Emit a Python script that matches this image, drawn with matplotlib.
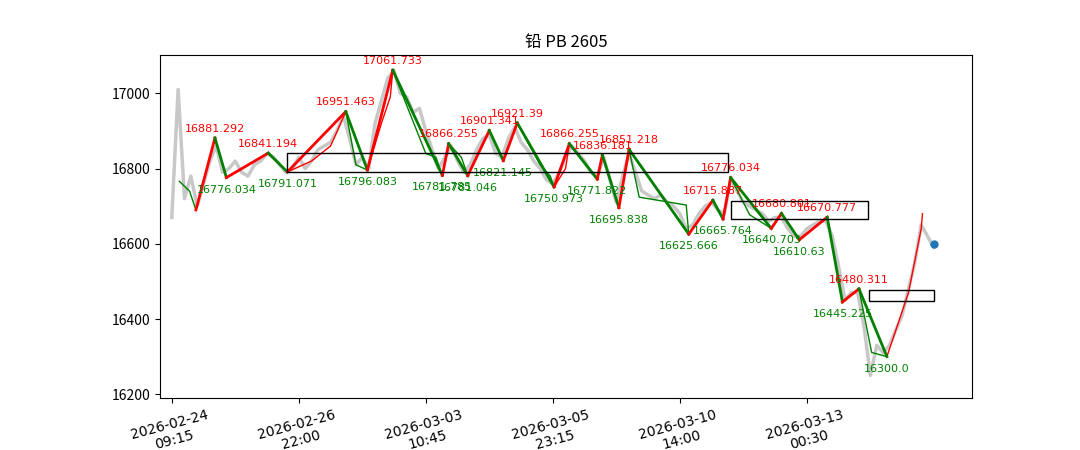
import matplotlib
matplotlib.use("Agg")
import matplotlib.pyplot as plt
from matplotlib.patches import Rectangle

plt.rcParams['font.family'] = ['Noto Sans CJK SC', 'DejaVu Sans']

grey_step = 5
grey = [16670,17010,16720,16780,16700,16760,16820,16860,16790,16800,16820,16790,16780,16810,16820,16840,16830,16810,16790,16800,
        16830,16800,16820,16850,16860,16870,16900,16940,16880,16810,16830,16800,16920,16980,17040,17060,17000,16990,16950,16960,
        16900,16850,16800,16830,16860,16820,16790,16810,16850,16880,16890,16840,16830,16880,16910,16870,16850,16820,16800,16770,
        16760,16790,16830,16860,16840,16820,16790,16780,16830,16770,16710,16780,16840,16790,16740,16730,16720,16730,16710,16700,
        16680,16640,16650,16680,16700,16710,16690,16680,16770,16740,16710,16700,16690,16680,16660,16670,16670,16640,16620,16620,
        16640,16650,16660,16660,16620,16540,16450,16470,16470,16380,16250,16330,16310,16330,16370,16410,16480,16550,16650,16620,16590]

piv_x = [19,34,43,76,91,137,154,174,213,218,233,250,261,272,301,313,335,339,352,360,407,426,434,440,472,480,494,516,528,541,563]
piv_y = [16690,16881.292,16776.034,16841.194,16791.071,16951.463,16796.083,17061.733,16781.785,16866.255,16781.046,16901.341,
         16821.145,16921.39,16750.973,16866.255,16771.822,16836.181,16695.838,16851.218,16625.666,16715.887,16665.764,16776.034,
         16640.703,16680.801,16610.63,16670.777,16445.225,16480.311,16300.0]
labelled = [i for i in range(1, len(piv_x))]

thin_green = [
    ([6,14,19],[16766,16740,16690]),
    ([137,145,154],[16951,16810,16796]),
    ([174,200,208,213],[17061,16840,16830,16781]),
    ([218,228,233],[16866,16830,16781]),
    ([272,290,298,301],[16921,16810,16780,16751]),
    ([360,368,405,407],[16851,16724,16703,16626]),
    ([440,455,472],[16776,16677,16641]),
    ([541,551,563],[16480,16311,16300]),
]
thin_red = [
    ([91,110,125,137],[16791,16820,16860,16951]),
    ([154,165,172,174],[16796,16920,16990,17061]),
    ([301,310,313],[16751,16800,16866]),
    ([563,580,590,591],[16300,16470,16640,16680]),
]
boxes = [(91,438,16792,16842),(440,548,16665,16715),(549,600,16447,16478)]
last_x, last_y = 600, 16600

tick_pos = [0,100,200,300,400,500]
tick_lab = ["2026-02-24\n09:15","2026-02-26\n22:00","2026-03-03\n10:45","2026-03-05\n23:15","2026-03-10\n14:00","2026-03-13\n00:30"]

fig = plt.figure(figsize=(10.8,4.5), dpi=100)
ax = fig.add_axes([0.148,0.1156,0.752,0.7622])
ax.plot([i*grey_step for i in range(len(grey))], grey, color='#c8c8c8', lw=2.5, zorder=1)
for xs, ys in thin_green:
    ax.plot(xs, ys, color='green', lw=1, zorder=2)
for xs, ys in thin_red:
    ax.plot(xs, ys, color='red', lw=1, zorder=2)
for i in range(len(piv_x)-1):
    c = 'red' if piv_y[i+1] > piv_y[i] else 'green'
    ax.plot(piv_x[i:i+2], piv_y[i:i+2], color=c, lw=2, zorder=3)
for i in labelled:
    up = piv_y[i] > piv_y[i-1]
    ax.annotate(str(piv_y[i]), (piv_x[i], piv_y[i]), xytext=(0, 3 if up else -5),
                textcoords='offset points', ha='center', va='bottom' if up else 'top',
                fontsize=8, color='red' if up else 'green', family='DejaVu Sans')
for x0,x1,y0,y1 in boxes:
    ax.add_patch(Rectangle((x0,y0), x1-x0, y1-y0, fill=False, ec='black', lw=1, zorder=4))
ax.scatter([last_x],[last_y], color='tab:blue', s=25, zorder=5)
ax.set_xlim(-9.4,630)
ax.set_ylim(16190,17102)
ax.set_yticks([16200,16400,16600,16800,17000])
ax.set_xticks(tick_pos)
ax.set_xticklabels(tick_lab, rotation=15, family='DejaVu Sans')
ax.set_title("铅 PB 2605", fontsize=12)
fig.savefig("out.png")
